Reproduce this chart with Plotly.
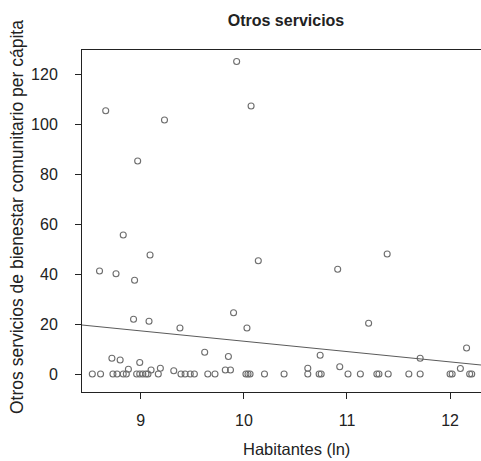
import plotly.graph_objects as go
import numpy as np

# Habitantes (ln) and per-capita spending
x_high = [8.66, 9.93, 10.07, 9.23, 8.97, 8.83, 9.09, 10.14, 8.60, 8.76, 8.94, 8.93, 9.08, 9.90, 9.38, 10.03, 11.39, 10.91, 11.21, 12.16]
y_high = [105.3, 125.0, 107.2, 101.6, 85.2, 55.6, 47.6, 45.3, 41.2, 40.1, 37.5, 21.9, 21.1, 24.5, 18.4, 18.4, 48.0, 41.9, 20.3, 10.4]

x_low = [8.72, 8.80, 8.99, 8.88, 9.10, 9.19, 9.32, 9.62, 9.85, 9.82, 9.87, 10.74, 10.62, 10.93, 11.71, 12.10]
y_low = [6.3, 5.6, 4.6, 1.9, 1.6, 2.3, 1.3, 8.7, 7.0, 1.6, 1.6, 7.5, 2.3, 2.9, 6.3, 2.2]

x_zero = [8.53, 8.61, 8.73, 8.77, 8.83, 8.86, 8.96, 8.99, 9.02, 9.05, 9.07, 9.17, 9.39, 9.43, 9.48, 9.52,
          9.65, 9.72, 10.02, 10.04, 10.06, 10.20, 10.39, 10.62, 10.73, 10.75, 11.01, 11.13, 11.29, 11.31,
          11.40, 11.60, 11.71, 12.00, 12.02, 12.19, 12.21]
y_zero = [0.0] * len(x_zero)

x_all = x_high + x_low + x_zero
y_all = y_high + y_low + y_zero

# fitted line
fit_intercept = 54.45
fit_slope = -4.134

x_range = [8.43, 12.30]
y_range = [-7.2, 129.6]
x_ticks = [9, 10, 11, 12]
y_ticks = [0, 20, 40, 60, 80, 100, 120]

fit_x = np.array(x_range)
fit_y = fit_intercept + fit_slope * fit_x

FONT = "Liberation Sans, Arial, Helvetica, sans-serif"

fig = go.Figure()
fig.add_trace(go.Scatter(x=x_all, y=y_all, mode="markers",
                         marker=dict(symbol="circle-open", size=6, color="#6e6e6e",
                                     line=dict(width=1.1, color="#6e6e6e")),
                         showlegend=False, hoverinfo="skip"))
fig.add_trace(go.Scatter(x=fit_x, y=fit_y, mode="lines",
                         line=dict(color="#5a5a5a", width=1),
                         showlegend=False, hoverinfo="skip"))

fig.update_layout(
    width=481, height=461,
    margin=dict(l=82, r=0, t=50, b=69),
    paper_bgcolor="white", plot_bgcolor="white",
    font=dict(family=FONT, size=16, color="#222222"),
    title=dict(text="<b>Otros servicios</b>", x=286/481, xanchor="center",
               y=1 - 20/461, yanchor="middle", font=dict(size=16, family=FONT, color="#222222")),
    xaxis=dict(range=x_range, tickvals=x_ticks, showgrid=False, zeroline=False,
               showline=True, mirror=True, linecolor="#222222", linewidth=1,
               ticks="outside", ticklen=6, tickcolor="#222222",
               ticklabelstandoff=8, tickfont=dict(size=16)),
    yaxis=dict(range=y_range, tickvals=y_ticks, showgrid=False, zeroline=False,
               showline=True, mirror=False, linecolor="#222222", linewidth=1,
               ticks="outside", ticklen=6, tickcolor="#222222",
               ticklabelstandoff=14, tickfont=dict(size=16)),
    annotations=[
        dict(text="Habitantes (ln)", xref="paper", yref="paper",
             x=(296 - 82) / 399, y=(392 - 449) / 342, xanchor="center", yanchor="middle",
             showarrow=False, font=dict(size=16.5)),
        dict(text="Otros servicios de bienestar comunitario per cápita", xref="paper", yref="paper",
             x=(17 - 82) / 399, y=(392 - 217) / 342, xanchor="center", yanchor="middle",
             textangle=-90, showarrow=False, font=dict(size=17.5)),
    ],
)

fig.write_html("out.html", config={"displayModeBar": False},
               post_script="document.body.style.margin='0';document.body.style.padding='0';")
